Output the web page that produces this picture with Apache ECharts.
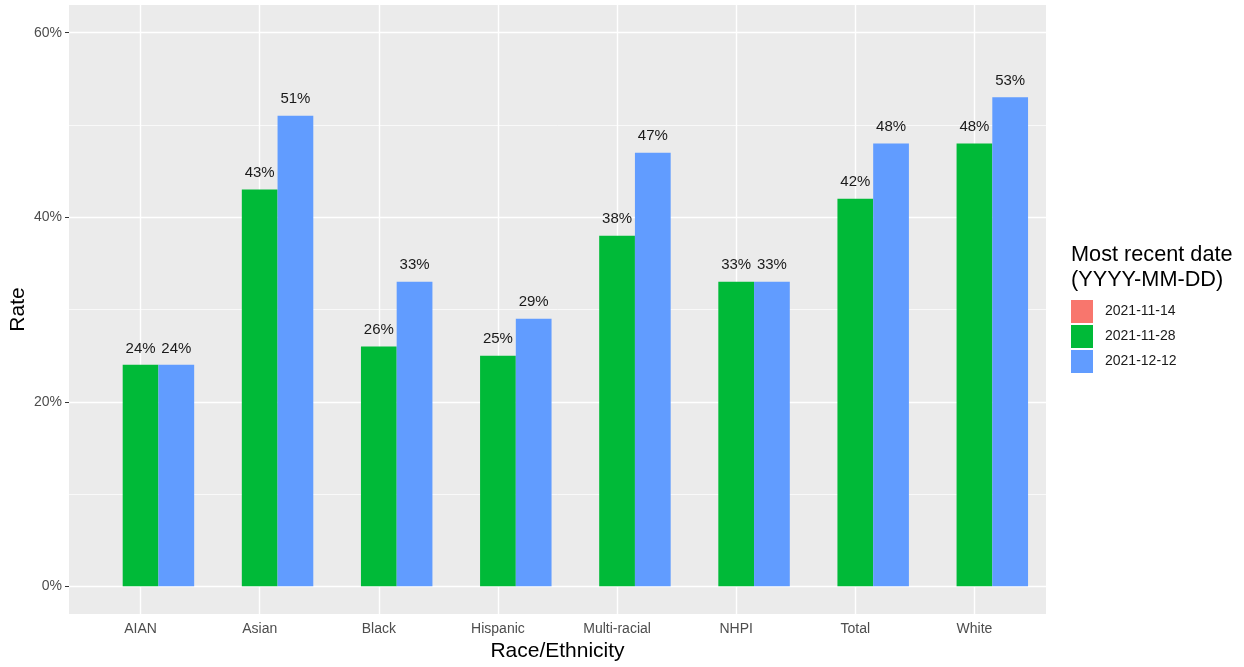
<!DOCTYPE html>
<html><head><meta charset="utf-8">
<script src="https://cdn.jsdelivr.net/npm/echarts@6/dist/echarts.min.js"></script>
<style>html,body{margin:0;padding:0;background:#fff}#c{width:1244px;height:667px}</style>
</head><body><div id="c"></div>
<script>
const categories = ['AIAN','Asian','Black','Hispanic','Multi-racial','NHPI','Total','White'];
const seriesNames = ['2021-11-14','2021-11-28','2021-12-12'];
const values1114 = [null,null,null,null,null,null,null,null];
const values1128 = [24,43,26,25,38,33,42,48];
const values1212 = [24,51,33,29,47,33,48,53];
const yTicks = [0,20,40,60];
const yMinorTicks = [10,30,50];
const colors = ['#F8766D','#00BA38','#619CFF'];
const font = '"Liberation Sans", Arial, sans-serif';

const chart = echarts.init(document.getElementById('c'));
const barLabel = {show:true, position:'top', distance:9,
  formatter: p => (p.value==null ? '' : p.value + '%'),
  fontSize:15, color:'#1A1A1A', fontFamily:font};

const seriesData = [values1114, values1128, values1212];
const bars = seriesNames.map((n,i) => ({
  name:n, type:'bar', xAxisIndex:0, yAxisIndex:0, data:seriesData[i],
  barGap:'0%', barCategoryGap:'10%', z:3,
  itemStyle:{color:colors[i]}, label:barLabel
}));

const option = {
  animation:false,
  textStyle:{fontFamily:font},
  title:{text:'Most recent date\n(YYYY-MM-DD)', left:1071, top:243, padding:0,
    textStyle:{fontSize:21.7, fontWeight:'normal', color:'#000', lineHeight:25, fontFamily:font}},
  legend:{data:seriesNames, orient:'vertical', left:1071, top:300, padding:0, itemWidth:22, itemHeight:23,
    itemGap:2, icon:'rect', textStyle:{fontSize:14, color:'#1A1A1A', padding:[0,0,0,7], fontFamily:font}},
  grid:[
    {left:81, right:210, top:5, bottom:53, show:false, containLabel:false, outerBoundsMode:'none'},
    {left:69, right:198, top:5, bottom:53, show:true, backgroundColor:'#EBEBEB', borderWidth:0, containLabel:false, outerBoundsMode:'none'}
  ],
  xAxis:[
    {type:'category', gridIndex:0, data:categories,
      axisLine:{show:false}, splitLine:{show:false},
      axisTick:{show:true, alignWithLabel:true, length:4, lineStyle:{color:'#333'}},
      axisLabel:{fontSize:14, color:'#4D4D4D', margin:8, fontFamily:font},
      name:'Race/Ethnicity', nameLocation:'middle', nameGap:27, nameMoveOverlap:false,
      nameTextStyle:{fontSize:21, color:'#000', fontFamily:font}},
    {type:'value', gridIndex:1, min:0, max:1, show:false}
  ],
  yAxis:[
    {type:'value', gridIndex:0, min:-3, max:63, show:false},
    {type:'value', gridIndex:1, min:-3, max:63,
      axisLine:{show:false}, splitLine:{show:false},
      axisTick:{show:true, customValues:yTicks, length:4, lineStyle:{color:'#333'}},
      axisLabel:{customValues:yTicks, formatter:'{value}%', fontSize:14, color:'#4D4D4D', margin:7, fontFamily:font},
      name:'Rate', nameLocation:'middle', nameGap:40, nameRotate:90, nameMoveOverlap:false,
      nameTextStyle:{fontSize:21, color:'#000', fontFamily:font}}
  ],
  series:[
    {type:'line', xAxisIndex:1, yAxisIndex:1, data:[], z:1, silent:true,
      markLine:{z:1, symbol:['none','none'], silent:true, label:{show:false}, animation:false,
        data: yTicks.map(v=>({yAxis:v, lineStyle:{color:'#FFFFFF', width:1.4, type:'solid'}}))
          .concat(yMinorTicks.map(v=>({yAxis:v, lineStyle:{color:'#FFFFFF', width:0.7, type:'solid'}})))}},
    {type:'line', xAxisIndex:0, yAxisIndex:0, data:[], z:1, silent:true,
      markLine:{z:1, symbol:['none','none'], silent:true, label:{show:false}, animation:false,
        data: categories.map(c=>({xAxis:c, lineStyle:{color:'#FFFFFF', width:1.4, type:'solid'}}))}}
  ].concat(bars)
};
chart.setOption(option);
</script>
</body></html>
